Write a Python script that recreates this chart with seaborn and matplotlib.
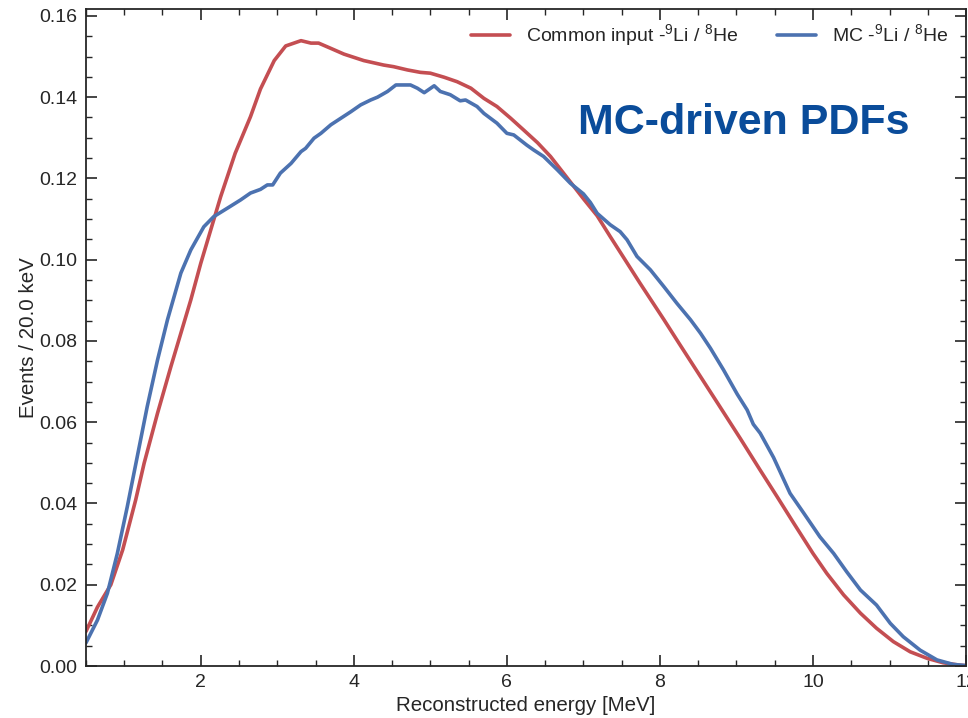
import matplotlib
matplotlib.use("Agg")
import matplotlib.pyplot as plt
from matplotlib.ticker import MultipleLocator
import seaborn as sns
import pandas as pd

# ---- data ----
energy_common = [0.5, 0.65, 0.825, 0.98, 1.15, 1.26, 1.435, 1.61, 1.74, 1.87,
                 2.0, 2.13, 2.26, 2.45, 2.65, 2.78, 2.96, 3.11, 3.31, 3.44,
                 3.54, 3.70, 3.87, 4.13, 4.39, 4.52, 4.70, 4.87, 5.00, 5.18,
                 5.35, 5.53, 5.70, 5.87, 6.05, 6.22, 6.40, 6.57, 6.74, 7.00,
                 7.18, 7.35, 7.53, 7.74, 8.05, 8.25, 8.50, 8.75, 9.05, 9.31,
                 9.53, 9.75, 10.0, 10.18, 10.40, 10.62, 10.83, 11.05, 11.27, 11.49,
                 11.70, 11.92, 12.0]
events_common = [0.0085, 0.0145, 0.0200, 0.0286, 0.0409, 0.0499, 0.0622, 0.0737, 0.0819, 0.0901,
                 0.0991, 0.1073, 0.1155, 0.1262, 0.1352, 0.1420, 0.1490, 0.1526, 0.1539, 0.1533,
                 0.1533, 0.1520, 0.1506, 0.1490, 0.1479, 0.1475, 0.1467, 0.1461, 0.1459, 0.1449,
                 0.1438, 0.1422, 0.1397, 0.1377, 0.1348, 0.1319, 0.1288, 0.1254, 0.1213, 0.1150,
                 0.1108, 0.1057, 0.1004, 0.0942, 0.0853, 0.0794, 0.0721, 0.0648, 0.0560, 0.0482,
                 0.0417, 0.0351, 0.0277, 0.0228, 0.0175, 0.0130, 0.0093, 0.0060, 0.0035, 0.0019,
                 0.0008, 0.0002, 0.0001]

energy_mc = [0.5, 0.65, 0.78, 0.91, 1.04, 1.17, 1.30, 1.435, 1.565, 1.74,
             1.87, 2.04, 2.17, 2.35, 2.52, 2.65, 2.78, 2.87, 2.94, 3.04,
             3.18, 3.31, 3.37, 3.48, 3.57, 3.70, 3.83, 3.96, 4.09, 4.22,
             4.31, 4.44, 4.55, 4.74, 4.83, 4.92, 5.05, 5.13, 5.26, 5.39,
             5.46, 5.61, 5.70, 5.87, 6.00, 6.09, 6.26, 6.35, 6.48, 6.66,
             6.83, 7.00, 7.09, 7.18, 7.35, 7.48, 7.57, 7.70, 7.875, 8.05,
             8.22, 8.40, 8.53, 8.66, 8.83, 9.01, 9.14, 9.22, 9.31, 9.485,
             9.70, 9.88, 10.09, 10.27, 10.44, 10.62, 10.83, 11.01, 11.18, 11.40,
             11.62, 11.83, 12.0]
events_mc = [0.0057, 0.0113, 0.0179, 0.0277, 0.0392, 0.0515, 0.0638, 0.0753, 0.0852, 0.0967,
             0.1024, 0.1081, 0.1106, 0.1127, 0.1147, 0.1164, 0.1173, 0.1184, 0.1184, 0.1213,
             0.1237, 0.1266, 0.1274, 0.1299, 0.1311, 0.1332, 0.1348, 0.1364, 0.1381, 0.1393,
             0.1400, 0.1414, 0.1430, 0.1430, 0.1422, 0.1411, 0.1428, 0.1414, 0.1406, 0.1391,
             0.1393, 0.1377, 0.1360, 0.1336, 0.1311, 0.1307, 0.1282, 0.1270, 0.1254, 0.1221,
             0.1188, 0.1162, 0.1141, 0.1114, 0.1086, 0.1069, 0.1049, 0.1008, 0.0975, 0.0934,
             0.0893, 0.0852, 0.0819, 0.0782, 0.0729, 0.0669, 0.0630, 0.0595, 0.0573, 0.0513,
             0.0425, 0.0376, 0.0318, 0.0277, 0.0232, 0.0187, 0.0150, 0.0105, 0.0072, 0.0039,
             0.0015, 0.0004, 0.0001]

label_common = r"Common input -$^{9}$Li / $^{8}$He"
label_mc = r"MC -$^{9}$Li / $^{8}$He"
x_label = "Reconstructed energy [MeV]"
y_label = "Events / 20.0 keV"
annotation = "MC-driven PDFs"

# ---- styling ----
sns.set_theme(style="ticks")
plt.rcParams["font.family"] = ["Liberation Sans", "DejaVu Sans"]
plt.rcParams["mathtext.default"] = "regular"

df = pd.concat([
    pd.DataFrame({"energy": energy_common, "events": events_common, "model": label_common}),
    pd.DataFrame({"energy": energy_mc, "events": events_mc, "model": label_mc}),
], ignore_index=True)

fig = plt.figure(figsize=(9.68, 7.18), dpi=100)
ax = fig.add_axes([0.0888, 0.0724, 0.9092, 0.9151])

palette = {label_common: "#C44E52", label_mc: "#4C72B0"}
sns.lineplot(data=df, x="energy", y="events", hue="model", palette=palette,
             hue_order=[label_common, label_mc], estimator=None, sort=False,
             linewidth=2.6, ax=ax)

ax.set_xlim(0.5, 12)
ax.set_ylim(0, 0.1617)
ax.xaxis.set_major_locator(MultipleLocator(2))
ax.xaxis.set_minor_locator(MultipleLocator(0.5))
ax.yaxis.set_major_locator(MultipleLocator(0.02))
ax.yaxis.set_minor_locator(MultipleLocator(0.005))
ax.yaxis.set_major_formatter(matplotlib.ticker.FormatStrFormatter("%.2f"))

for side in ["left", "right", "top", "bottom"]:
    ax.spines[side].set_visible(True)
    ax.spines[side].set_color("#262626")
    ax.spines[side].set_linewidth(1.3)

ax.tick_params(which="both", direction="in", top=True, right=True,
               color="#262626", labelsize=14, labelcolor="#262626")
ax.tick_params(which="major", length=8, width=1.2, pad=6)
ax.tick_params(which="minor", length=4.5, width=1.0)

ax.set_xlabel(x_label, fontsize=14.8, color="#262626", labelpad=3)
ax.set_ylabel(y_label, fontsize=14.8, color="#262626", labelpad=1)

leg = ax.legend(loc="upper right", frameon=False, ncol=2, fontsize=14,
                handlelength=2.0, handletextpad=0.8, columnspacing=2.0,
                borderaxespad=0.3, bbox_to_anchor=(0.995, 1.0))
for line in leg.get_lines():
    line.set_linewidth(2.6)

ax.text(0.559, 0.826, annotation, transform=ax.transAxes, ha="left", va="center",
        fontsize=31, fontweight="bold", color="#0A4C9A")

fig.savefig("out.png", dpi=100)
